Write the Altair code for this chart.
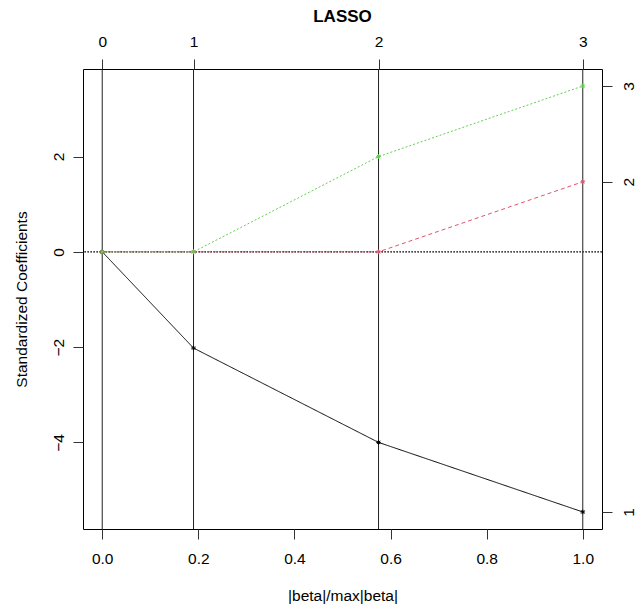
import altair as alt
import pandas as pd

# ---- data ----
steps_x = [0.0, 0.19, 0.575, 1.0]          # |beta|/max|beta| at each LARS step
step_labels = ["0", "1", "2", "3"]          # top axis: step number
coef_1 = [0.0, -2.02, -4.0, -5.46]          # variable 1 (black, solid)
coef_2 = [0.0, 0.0, 0.0, 1.47]              # variable 2 (red, dashed)
coef_3 = [0.0, 0.0, 2.0, 3.48]              # variable 3 (green, dotted)
var_names = ["1", "2", "3"]
x_ticks = [0.0, 0.2, 0.4, 0.6, 0.8, 1.0]
y_ticks = [-4, -2, 0, 2]

colors = ["#000000", "#DF536B", "#61D04F"]
dashes = [[1, 0], [4, 3], [2, 2]]
FONT = "Liberation Sans"
FS = 15.5

rows = []
for name, coefs in zip(var_names, [coef_1, coef_2, coef_3]):
    for xv, yv in zip(steps_x, coefs):
        rows.append({"x": xv, "coef": yv, "var": name})
df = pd.DataFrame(rows)
steps_df = pd.DataFrame({"x": steps_x, "step": step_labels})

# R-style 4% range extension
all_y = coef_1 + coef_2 + coef_3
ymin, ymax = min(all_y), max(all_y)
yr = ymax - ymin
y_domain = [ymin - 0.04 * yr, ymax + 0.04 * yr]
xmin, xmax = min(steps_x), max(steps_x)
xr = xmax - xmin
x_domain = [xmin - 0.04 * xr, xmax + 0.04 * xr]

xscale = alt.Scale(domain=x_domain, nice=False, zero=False)
yscale = alt.Scale(domain=y_domain, nice=False, zero=False)

final_vals = [coef_1[-1], coef_2[-1], coef_3[-1]]
right_expr = " : ".join(
    [f"datum.value == {v} ? '{n}'" for v, n in zip(final_vals, var_names)]
) + " : ''"
top_expr = " : ".join(
    [f"datum.value == {v} ? '{n}'" for v, n in zip(steps_x, step_labels)]
) + " : ''"

axis_common = dict(
    domain=False, grid=False, tickSize=10, tickColor="#333333",
    labelFont=FONT, labelFontSize=FS, labelColor="#000000",
    titleFont=FONT, titleFontSize=FS, titleFontWeight="normal", titleColor="#000000",
)

color_enc = alt.Color("var:N", scale=alt.Scale(domain=var_names, range=colors), legend=None)
dash_enc = alt.StrokeDash("var:N", scale=alt.Scale(domain=var_names, range=dashes), legend=None)

# vertical rules at each step, with the top step axis
rules = alt.Chart(steps_df).mark_rule(color="#222222", strokeWidth=1).encode(
    x=alt.X("x:Q", scale=xscale, title=None,
            axis=alt.Axis(orient="top", values=steps_x, labelExpr=top_expr,
                          labelBaseline="middle", labelPadding=18, **axis_common)),
)

zero = alt.Chart(steps_df).mark_rule(color="#444444", strokeDash=[1.5, 1.5], strokeWidth=0.8).encode(
    y=alt.datum(0, scale=yscale, axis=None)
)

lines = alt.Chart(df).mark_line(strokeWidth=1).encode(
    x=alt.X("x:Q", scale=xscale, title="|beta|/max|beta|",
            axis=alt.Axis(orient="bottom", values=x_ticks, format=".1f",
                          labelBaseline="middle", labelPadding=19, titlePadding=22,
                          **axis_common)),
    y=alt.Y("coef:Q", scale=yscale, title="Standardized Coefficients",
            axis=alt.Axis(orient="left", values=y_ticks, labelAngle=-90,
                          labelAlign="center", labelBaseline="middle",
                          labelPadding=15, titlePadding=22, **axis_common)),
    color=color_enc,
    strokeDash=dash_enc,
    detail="var:N",
)

star = "M-1,0L1,0M0,-1L0,1M-0.7,-0.7L0.7,0.7M-0.7,0.7L0.7,-0.7"
points = alt.Chart(df).mark_point(shape=star, filled=False, size=22, strokeWidth=1, opacity=1).encode(
    x=alt.X("x:Q", scale=xscale, axis=None),
    y=alt.Y("coef:Q", scale=yscale, title=None,
            axis=alt.Axis(orient="right", values=final_vals, labelExpr=right_expr,
                          labelAngle=-90, labelAlign="center", labelBaseline="middle",
                          labelPadding=16, **axis_common)),
    color=color_enc,
)

chart = alt.layer(rules, zero, lines, points).resolve_axis(
    x="independent", y="independent"
).properties(
    width=519, height=460,
    autosize=alt.AutoSizeParams(type="none"),
    padding={"left": 83, "top": 69, "right": 34, "bottom": 81},
    title=alt.TitleParams("LASSO", font=FONT, fontSize=17, fontWeight="bold",
                          anchor="middle", offset=8, color="#000000"),
    background="white",
).configure_view(stroke="#000000", strokeWidth=1)

chart.save("out.html", embed_options={"renderer": "svg", "actions": False})
